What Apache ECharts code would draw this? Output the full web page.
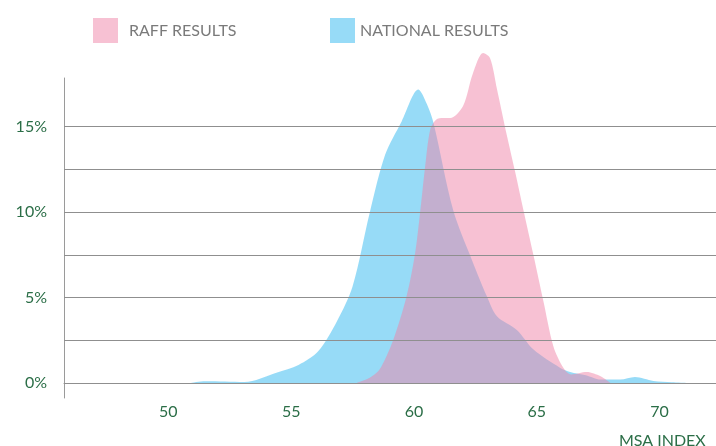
<!DOCTYPE html>
<html>
<head>
<meta charset="utf-8">
<script src="https://cdn.jsdelivr.net/npm/echarts@6/dist/echarts.min.js"></script>
<style>
html,body{margin:0;padding:0;background:#fff;}
#c{width:716px;height:446px;}
</style>
</head>
<body>
<div id="c"></div>
<script>
// Data
var seriesNames = ['RAFF RESULTS', 'NATIONAL RESULTS'];
var xTickValues = [50, 55, 60, 65, 70];
var yTickValues = [0, 5, 10, 15];
var gridValues = [0, 2.5, 5, 7.5, 10, 12.5, 15];
var xAxisTitle = 'MSA INDEX';

var natX = [50.9, 51.5, 52.3, 53.1, 54.4, 55.3, 56.1, 56.86, 57.5, 58.2, 58.83, 59.5, 60.18, 60.53, 60.8, 61.6, 62.36, 62.97, 63.38, 64.19, 64.87, 65.96, 66.36, 67.0, 67.6, 68.4, 69.0, 69.75, 70.5, 71.1];
var natY = [0, 0.1, 0.08, 0.05, 0.6, 1.05, 1.85, 3.6, 5.65, 9.96, 13.36, 15.3, 17.16, 16.3, 15.2, 10.1, 7.2, 5.07, 3.9, 3.1, 1.95, 0.88, 0.64, 0.45, 0.2, 0.2, 0.35, 0.12, 0.04, 0];

var raffX = [57.67, 58.2, 58.6, 59.16, 59.7, 60.05, 60.25, 60.46, 60.66, 60.9, 61.2, 61.48, 62.0, 62.4, 62.82, 63.1, 63.38, 63.78, 64.12, 64.46, 64.87, 65.27, 65.68, 66.09, 66.4, 67.04, 67.6, 68.0];
var raffY = [0, 0.3, 0.78, 2.53, 5.07, 7.6, 9.95, 12.7, 14.8, 15.4, 15.5, 15.5, 16.2, 18.1, 19.3, 19.0, 17.2, 14.5, 12.35, 10.1, 7.45, 4.8, 2.14, 0.88, 0.5, 0.64, 0.39, 0];

function pairs(xs, ys) { return xs.map(function (x, i) { return [x, ys[i]]; }); }

var green = '#2b6e47';
var font = 'Lato';
var chart = echarts.init(document.getElementById('c'), null, {renderer: 'canvas'});
chart.setOption({
  animation: false,
  backgroundColor: '#fff',
  textStyle: {fontFamily: font},
  title: {
    text: xAxisTitle, left: 614, top: 428,
    textStyle: {color: green, fontSize: 16, fontWeight: 'normal', fontFamily: font}
  },
  legend: [{
    data: [{name: seriesNames[0], itemStyle: {color: '#f7c1d3'}}],
    left: 88, top: 13, itemWidth: 25, itemHeight: 25, icon: 'rect',
    textStyle: {color: '#7a7a7a', fontSize: 16, fontFamily: font, padding: [0, 0, 0, 6]}
  }, {
    data: [{name: seriesNames[1], itemStyle: {color: '#97dbf7'}}],
    left: 325, top: 13, itemWidth: 25, itemHeight: 25, icon: 'rect',
    textStyle: {color: '#7a7a7a', fontSize: 16, fontFamily: font, padding: [0, 0, 0, 0]}
  }],
  grid: {left: 64, right: 0, top: 78, bottom: 48, containLabel: false},
  xAxis: {
    type: 'value', min: 45.75, max: 72.3,
    axisLine: {show: true, lineStyle: {color: '#9a9a9a', width: 1}},
    axisTick: {show: false},
    splitLine: {show: false},
    axisLabel: {customValues: xTickValues, color: green, fontSize: 16, margin: 6, fontFamily: font}
  },
  yAxis: {
    type: 'value', min: -0.88, max: 17.84,
    axisLine: {show: true, lineStyle: {color: '#9a9a9a', width: 1}},
    axisTick: {show: false},
    splitLine: {show: false},
    axisLabel: {customValues: yTickValues, color: green, fontSize: 16, margin: 17, fontFamily: font,
      formatter: function (v) { return v + '%'; }}
  },
  series: [{
    name: seriesNames[1], type: 'line', data: pairs(natX, natY),
    smooth: 0.3, showSymbol: false, clip: false,
    lineStyle: {width: 0}, itemStyle: {color: '#97dbf7'},
    areaStyle: {color: '#2fb7ef', opacity: 0.5},
    markLine: {
      silent: true, symbol: 'none', label: {show: false},
      lineStyle: {color: '#8f8f8f', type: 'solid', width: 1},
      data: gridValues.map(function (v) { return {yAxis: v}; })
    },
    z: 2
  }, {
    name: seriesNames[0], type: 'line', data: pairs(raffX, raffY),
    smooth: 0.3, showSymbol: false, clip: false,
    lineStyle: {width: 0}, itemStyle: {color: '#f7c1d3'},
    areaStyle: {color: '#ef83a7', opacity: 0.5},
    z: 3
  }]
});
</script>
</body>
</html>
